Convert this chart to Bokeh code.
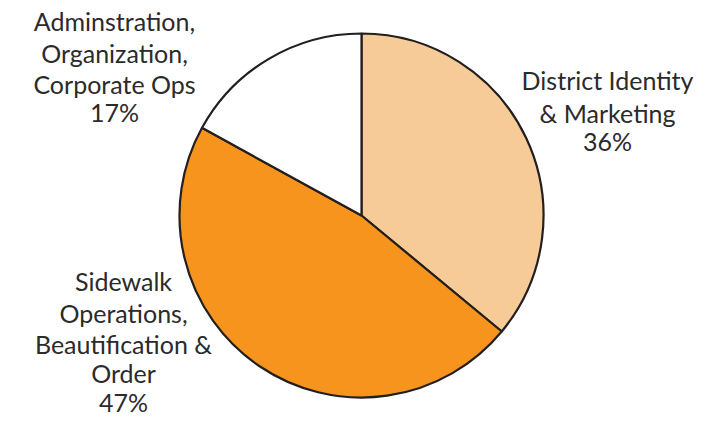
import math
from bokeh.plotting import figure
from bokeh.models import Range1d, ColumnDataSource
from bokeh.core.properties import value
from bokeh.embed import file_html
from bokeh.resources import INLINE

# ---- data ----
categories = ["District Identity & Marketing",
              "Sidewalk Operations, Beautification & Order",
              "Adminstration, Organization, Corporate Ops"]
shares = [36, 47, 17]
colors = ["#F7CB97", "#F7941D", "#FFFFFF"]
label_lines = [
    ["District Identity", "& Marketing", "36%"],
    ["Sidewalk", "Operations,", "Beautification &", "Order", "47%"],
    ["Adminstration,", "Organization,", "Corporate Ops", "17%"],
]

# ---- layout (pixel space from top-left, y negated) ----
W, H = 716, 416
cx, cy, r = 361, -215, 182
label_x = [607, 123, 114]
label_mid = [
    [79, 112, 140],
    [280, 312, 343, 372, 401],
    [20, 52, 83, 111],
]

p = figure(width=W, height=H, output_backend="svg", toolbar_location=None,
           x_range=Range1d(0, W), y_range=Range1d(-H, 0),
           min_border=0)
p.axis.visible = False
p.grid.visible = False
p.outline_line_color = None
p.background_fill_color = "white"
p.border_fill_color = "white"

# wedges clockwise from top
total = sum(shares)
start = math.pi / 2
starts, ends = [], []
for s in shares:
    sweep = 2 * math.pi * s / total
    end = start - sweep
    starts.append(end)
    ends.append(start)
    start = end

src = ColumnDataSource(dict(x=[cx] * len(shares), y=[cy] * len(shares),
                            start=starts, end=ends, color=colors, cat=categories))
p.wedge(x="x", y="y", radius=r, start_angle="start", end_angle="end",
        fill_color="color", line_color="#231F20", line_width=2.2, source=src)

# labels
tx, ty, tt = [], [], []
for lx, mids, lines in zip(label_x, label_mid, label_lines):
    for m, ln in zip(mids, lines):
        tx.append(lx)
        ty.append(-m)
        tt.append(ln)
p.text(x=tx, y=ty, text=tt, text_align="center", text_baseline="middle",
       text_font=value("Lato"), text_font_size="25px", text_color="#2b2b2b")

open("out.html", "w").write(file_html(p, INLINE))
